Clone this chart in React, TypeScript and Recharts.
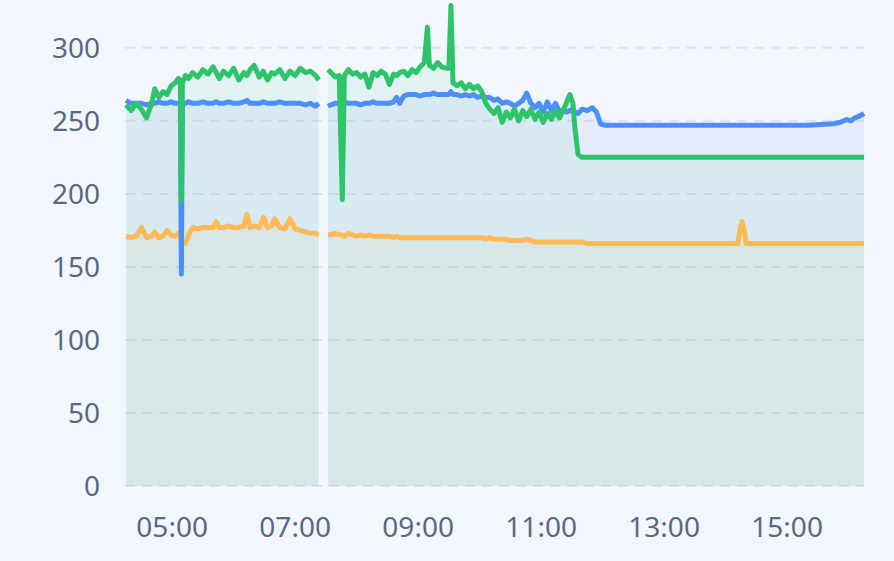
import React from "react"
import { ComposedChart, Area, Line, XAxis, YAxis, CartesianGrid } from "recharts"

// minutes since midnight
const times = [
  255, 260, 265, 270, 275, 280, 283, 287, 291, 295, 299, 303, 306, 308, 309, 310, 313, 316, 320, 325,
  330, 335, 340, 343, 346, 350, 355, 360, 365, 370, 373, 376, 380, 385, 389, 393, 397, 400, 405, 410,
  415, 420, 425, 430, 435, 440, 443, 448, 452, 455, 459, 463, 466, 468, 472, 476, 480, 484, 488, 492,
  496, 500, 504, 508, 512, 516, 519, 522, 526, 530, 534, 538, 542, 546, 549, 551, 555, 559, 563, 567,
  570, 572, 574, 578, 582, 586, 590, 594, 598, 602, 606, 610, 614, 618, 622, 626, 630, 634, 638, 642,
  646, 650, 654, 658, 662, 666, 670, 674, 678, 682, 685, 688, 691, 693, 696, 700, 705, 710, 714, 718,
  722, 740, 770, 800, 830, 852, 854, 856, 858, 860, 890, 920, 945, 952, 958, 962, 966, 970, 975,
]

const blueVals = [
  264, 262, 262, 262, 261, 262, 262, 263, 262, 262, 263, 262, 262, 262, 145, 262, 262, 263, 262, 262,
  263, 262, 262, 263, 262, 262, 263, 262, 262, 263, 264, 262, 262, 262, 263, 262, 262, 262, 263, 262,
  262, 262, 262, 261, 262, 260, 262, null, 260, 261, 262, 262, 262, 263, 262, 262, 262, 261, 262, 262,
  263, 262, 262, 262, 262, 263, 266, 262, 267, 268, 268, 268, 267, 268, 268, 268, 269, 268, 268, 268,
  268, 270, 268, 268, 267, 268, 267, 268, 266, 267, 266, 266, 264, 265, 262, 263, 262, 260, 262, 264,
  269, 262, 259, 262, 256, 263, 257, 262, 256, 258, 256, 257, 258, 256, 255, 258, 257, 259, 256, 248,
  247, 247, 247, 247, 247, 247, 247, 247, 247, 247, 247, 247, 248, 249, 251, 250, 252, 253, 255,
]

const greenVals = [
  261, 257, 262, 258, 252, 262, 272, 266, 270, 268, 274, 276, 279, 278, 195, 276, 281, 279, 283, 280,
  285, 282, 287, 283, 279, 284, 281, 286, 278, 283, 281, 285, 288, 280, 284, 278, 283, 282, 285, 279,
  284, 281, 286, 283, 284, 281, 278, null, 285, 283, 280, 281, 196, 281, 285, 282, 283, 280, 282, 273,
  283, 281, 284, 282, 275, 282, 281, 283, 284, 281, 285, 283, 287, 290, 314, 288, 286, 290, 287, 286,
  286, 329, 276, 274, 276, 272, 275, 272, 274, 270, 262, 258, 255, 259, 249, 256, 252, 258, 250, 257,
  253, 258, 251, 256, 249, 255, 251, 257, 252, 258, 263, 268, 262, 245, 227, 225, 225, 225, 225, 225,
  225, 225, 225, 225, 225, 225, 225, 225, 225, 225, 225, 225, 225, 225, 225, 225, 225, 225, 225,
]

const orangeVals = [
  171, 170, 171, 177, 170, 171, 174, 170, 171, 175, 172, 171, 173, 170, 167, 167, 166, 172, 177, 176,
  177, 177, 177, 181, 177, 177, 178, 177, 177, 178, 186, 177, 178, 177, 184, 177, 178, 183, 177, 176,
  183, 176, 175, 174, 173, 173, 172, null, 172, 172, 173, 172, 172, 171, 173, 172, 171, 172, 171, 172,
  171, 171, 171, 171, 171, 170, 171, 170, 170, 170, 170, 170, 170, 170, 170, 170, 170, 170, 170, 170,
  170, 170, 170, 170, 170, 170, 170, 170, 170, 170, 169, 170, 169, 169, 169, 169, 168, 168, 168, 168,
  169, 168, 167, 167, 167, 167, 167, 167, 167, 167, 167, 167, 167, 167, 167, 167, 166, 166, 166, 166,
  166, 166, 166, 166, 166, 166, 176, 181, 176, 166, 166, 166, 166, 166, 166, 166, 166, 166, 166,
]

const yTicks = [0, 50, 100, 150, 200, 250, 300]
const xTicks = [300, 420, 540, 660, 780, 900]
const xTickLabels = ["05:00", "07:00", "09:00", "11:00", "13:00", "15:00"]

const data = times.map((t, i) => ({
  t,
  blue: blueVals[i],
  green: greenVals[i],
  orange: orangeVals[i],
}))

const tickStyle = { fill: "#5a6980", fontSize: 28, fontFamily: "Noto Sans" }

const series = [
  { key: "orange", color: "#ffb955", fillOpacity: 0.06 },
  { key: "blue", color: "#4d8ef8", fillOpacity: 0.08 },
  { key: "green", color: "#2ec46a", fillOpacity: 0.07 },
]

export default function App() {
  return (
    <div style={{ position: "absolute", left: 0, top: 0, width: 894, height: 561, background: "#f2f6fd" }}>
      <ComposedChart width={894} height={561} data={data} margin={{ top: 4, right: 30, bottom: 0, left: 0 }}>
        <CartesianGrid
          vertical={false}
          horizontalValues={yTicks}
          stroke="#dde3ec"
          strokeDasharray="10 7"
          strokeWidth={2}
        />
        <XAxis
          dataKey="t"
          type="number"
          domain={[254, 975]}
          ticks={xTicks}
          tickFormatter={(v) => xTickLabels[xTicks.indexOf(v)]}
          axisLine={false}
          tickLine={false}
          tickSize={0}
          tickMargin={31}
          height={75}
          tick={tickStyle}
        />
        <YAxis
          domain={[0, 330]}
          ticks={yTicks}
          axisLine={false}
          tickLine={false}
          tickSize={0}
          tickMargin={25}
          width={125}
          tick={tickStyle}
        />
        {series.map((s) => (
          <Area
            key={"a-" + s.key}
            dataKey={s.key}
            type="linear"
            stroke="none"
            fill={s.color}
            fillOpacity={s.fillOpacity}
            dot={false}
            activeDot={false}
            isAnimationActive={false}
          />
        ))}
        {series.map((s) => (
          <Line
            key={"l-" + s.key}
            dataKey={s.key}
            type="linear"
            stroke={s.color}
            strokeWidth={5}
            strokeLinejoin="round"
            dot={false}
            activeDot={false}
            isAnimationActive={false}
          />
        ))}
      </ComposedChart>
    </div>
  )
}
